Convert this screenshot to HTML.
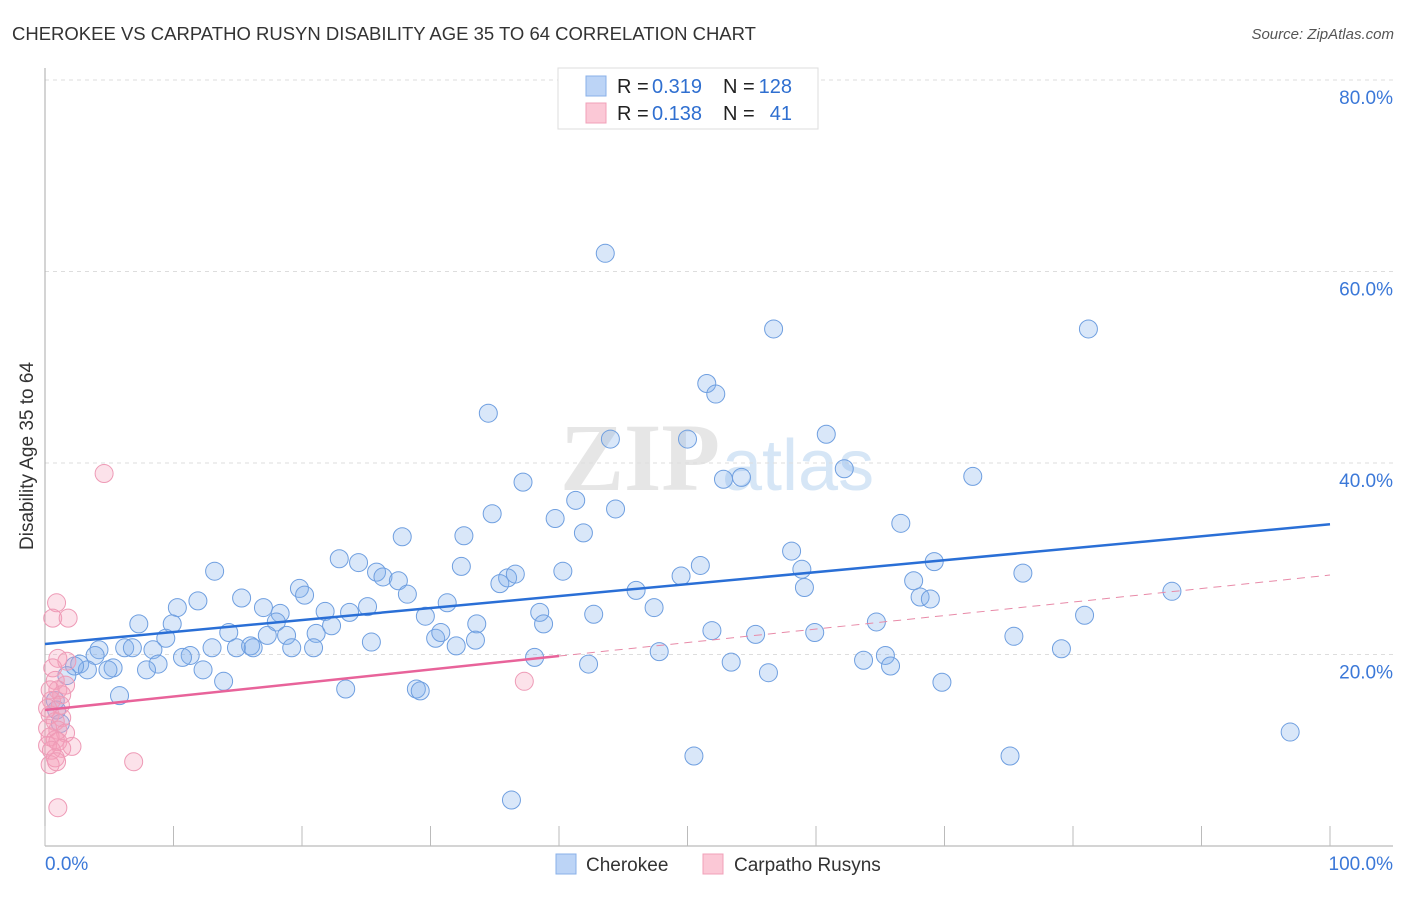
<!DOCTYPE html>
<html><head><meta charset="utf-8"><style>
body{margin:0;background:#fff;font-family:"Liberation Sans",sans-serif;}
</style></head><body>
<svg width="1406" height="892" xmlns="http://www.w3.org/2000/svg" id="chart">
<text x="12" y="40" font-size="18.5" fill="#333">CHEROKEE VS CARPATHO RUSYN DISABILITY AGE 35 TO 64 CORRELATION CHART</text>
<text x="1394" y="39" font-size="15" fill="#555" font-style="italic" text-anchor="end">Source: ZipAtlas.com</text>
<text x="720" y="490" font-size="96" fill="#e6e6e6" font-family="Liberation Serif" text-anchor="end" font-weight="bold">ZIP</text>
<text x="722" y="490" font-size="72" fill="#d6e6f6">atlas</text>
<g id="grid"></g><g id="axes"></g><g id="marks"></g>
<text transform="translate(33,456) rotate(-90)" font-size="19" fill="#333" text-anchor="middle">Disability Age 35 to 64</text>
<g>
<rect x="558" y="68" width="260" height="61" fill="#fff" stroke="#ddd"/>
<rect x="586" y="76" width="20" height="20" fill="#bcd4f6" stroke="#8ab0e8"/>
<rect x="586" y="103" width="20" height="20" fill="#fbc8d6" stroke="#f0a0b8"/>
<text x="617" y="93" font-size="20" fill="#222">R =</text>
<text x="652" y="93" font-size="20" fill="#2f6fd0">0.319</text>
<text x="723" y="93" font-size="20" fill="#222">N =</text>
<text x="792" y="93" font-size="20" fill="#2f6fd0" text-anchor="end">128</text>
<text x="617" y="120" font-size="20" fill="#222">R =</text>
<text x="652" y="120" font-size="20" fill="#2f6fd0">0.138</text>
<text x="723" y="120" font-size="20" fill="#222">N =</text>
<text x="792" y="120" font-size="20" fill="#2f6fd0" text-anchor="end">41</text>
</g>
<g>
<rect x="556" y="854" width="20" height="20" fill="#bcd4f6" stroke="#8ab0e8"/>
<text x="586" y="871" font-size="19" fill="#333">Cherokee</text>
<rect x="703" y="854" width="20" height="20" fill="#fbc8d6" stroke="#f0a0b8"/>
<text x="734" y="871" font-size="19" fill="#333">Carpatho Rusyns</text>
</g>
</svg>
<script>
const blueX=[43.6,56.7,81.2,51.5,52.2,34.5,60.8,44.0,50.0,62.2,52.8,54.2,72.2,37.2,41.3,44.4,34.8,39.7,66.6,32.6,27.8,41.9,58.1,22.9,24.4,51.0,32.4,69.2,13.2,25.8,26.3,27.5,36.0,36.6,40.3,49.5,58.9,76.1,19.8,20.2,28.2,35.4,46.0,59.1,67.6,68.1,68.9,87.7,15.3,11.9,10.3,17.0,18.3,21.8,23.7,25.1,31.3,38.5,42.7,47.4,80.9,7.3,9.9,18.0,22.3,29.6,33.6,38.8,64.7,9.4,14.3,17.3,18.8,21.1,30.4,30.8,33.5,51.9,55.3,59.9,75.4,25.4,6.2,6.8,8.4,4.2,3.9,13.0,14.9,16.0,16.2,19.2,20.9,32.0,47.8,79.1,11.3,10.7,38.1,65.4,63.7,53.4,8.8,7.9,5.3,4.9,2.7,3.3,2.3,42.3,65.8,12.3,56.3,1.7,13.9,69.8,23.4,28.9,29.2,5.8,0.8,96.9,50.5,75.1,36.3,0.9,1.2];
const blueY=[61.9,54.0,54.0,48.3,47.2,45.2,43.0,42.5,42.5,39.4,38.3,38.5,38.6,38.0,36.1,35.2,34.7,34.2,33.7,32.4,32.3,32.7,30.8,30.0,29.6,29.3,29.2,29.7,28.7,28.6,28.1,27.7,28.0,28.4,28.7,28.2,28.9,28.5,26.9,26.2,26.3,27.4,26.7,27.0,27.7,26.0,25.8,26.6,25.9,25.6,24.9,24.9,24.3,24.5,24.4,25.0,25.4,24.4,24.2,24.9,24.1,23.2,23.2,23.4,23.0,24.0,23.2,23.2,23.4,21.7,22.3,22.0,22.0,22.2,21.7,22.3,21.5,22.5,22.1,22.3,21.9,21.3,20.7,20.7,20.5,20.5,19.9,20.7,20.7,20.9,20.7,20.7,20.7,20.9,20.3,20.6,19.9,19.7,19.7,19.9,19.4,19.2,19.0,18.4,18.6,18.4,19.0,18.4,18.8,19.0,18.8,18.4,18.1,17.8,17.2,17.1,16.4,16.4,16.2,15.7,15.2,11.9,9.4,9.4,4.8,14.2,12.8];
const pinkX=[4.6,0.9,0.6,1.8,1.0,1.7,0.6,0.8,1.6,1.0,1.3,0.5,1.2,0.4,1.3,0.8,0.2,1.0,1.6,0.4,0.8,0.2,1.0,2.1,1.3,0.5,0.8,0.4,0.9,6.9,1.0,37.3,0.4,0.2];
const pinkY=[38.9,25.4,23.8,23.8,19.6,19.3,18.6,17.3,16.8,16.3,15.8,15.2,14.7,13.7,13.4,13.0,12.3,12.1,11.8,11.4,11.1,10.5,10.9,10.4,10.2,10.0,9.2,8.5,8.8,8.8,4.0,17.2,16.3,14.4];
const blueTrend=[21.1,33.6]; // y at x=0 and x=100
const pinkTrend=[14.2,28.3];
const yTicks=[20,40,60,80];
const yTickLabels=["20.0%","40.0%","60.0%","80.0%"];
const xTicks=[0,10,20,30,40,50,60,70,80,90,100];

const NS="http://www.w3.org/2000/svg";
const X=v=>45+v*12.85, Y=v=>846-v*9.575;
function mk(tag,attrs,parent){const e=document.createElementNS(NS,tag);for(const k in attrs)e.setAttribute(k,attrs[k]);document.getElementById(parent).appendChild(e);return e;}
yTicks.forEach((t,i)=>{
 const l=mk('line',{x1:45,x2:1393,y1:Y(t),y2:Y(t),stroke:'#ddd','stroke-dasharray':'4,4'},'grid');
 
 
 const tx=mk('text',{x:1393,y:Y(t)+24,'font-size':19,fill:'#3b78d8','text-anchor':'end'},'grid');
 tx.textContent=yTickLabels[i];
 
 
});
let a=mk('line',{x1:45,x2:45,y1:68,y2:846,stroke:'#aaa'},'axes');


a=mk('line',{x1:45,x2:1393,y1:846,y2:846,stroke:'#aaa'},'axes');


xTicks.forEach(t=>{const l=mk('line',{x1:X(t),x2:X(t),y1:826,y2:846,stroke:'#bbb'},'axes');
 
 });
let t0=mk('text',{x:45,y:870,'font-size':19,fill:'#3b78d8'},'axes');t0.textContent='0.0%';


t0=mk('text',{x:1393,y:870,'font-size':19,fill:'#3b78d8','text-anchor':'end'},'axes');t0.textContent='100.0%';


blueX.forEach((x,i)=>{const c=mk('circle',{cx:X(x),cy:Y(blueY[i]),r:9,fill:'rgba(130,175,235,0.3)',stroke:'#6f9fe0','stroke-width':1},'marks');
 
 });
pinkX.forEach((x,i)=>{const c=mk('circle',{cx:X(x),cy:Y(pinkY[i]),r:9,fill:'rgba(245,160,185,0.3)',stroke:'#ee9ab6','stroke-width':1},'marks');
 
 });
const py=v=>pinkTrend[0]+(pinkTrend[1]-pinkTrend[0])*v/100;
let tl=mk('line',{x1:X(40),x2:X(100),y1:Y(py(40)),y2:Y(py(100)),stroke:'#e88aa8','stroke-dasharray':'8,6','stroke-width':1},'marks');


tl=mk('line',{x1:X(0),x2:X(40),y1:Y(py(0)),y2:Y(py(40)),stroke:'#e8639a','stroke-width':2.5},'marks');


tl=mk('line',{x1:X(0),x2:X(100),y1:Y(blueTrend[0]),y2:Y(blueTrend[1]),stroke:'#2a6fd6','stroke-width':2.5},'marks');


</script>
</body></html>
